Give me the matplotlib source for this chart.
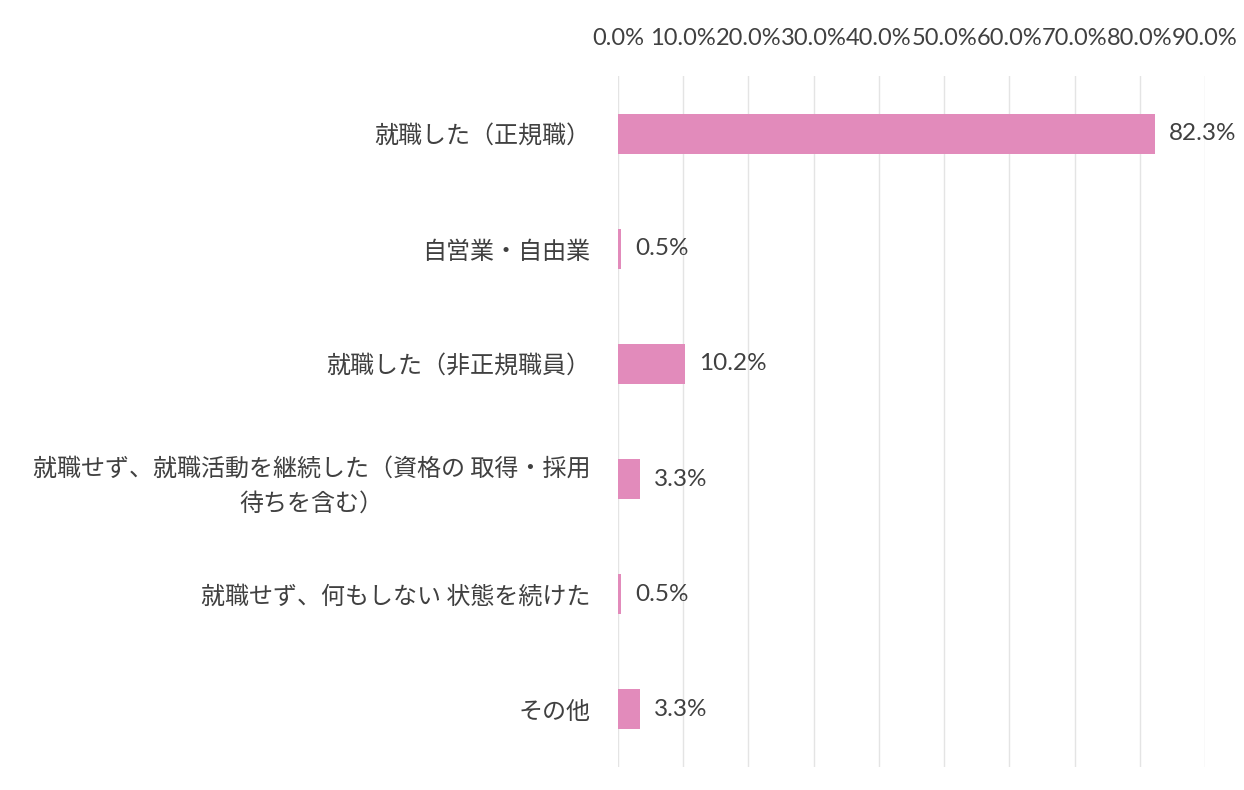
import numpy as np
import matplotlib.pyplot as plt

# data
categories = ['就職した（正規職）',
              '自営業・自由業',
              '就職した（非正規職員）',
              '就職せず、就職活動を継続した（資格の 取得・採用\n待ちを含む）',
              '就職せず、何もしない 状態を続けた',
              'その他']
values = [82.3, 0.5, 10.2, 3.3, 0.5, 3.3]
ticks = np.arange(0, 91, 10)

jp_font = ['Noto Sans CJK JP', 'DejaVu Sans']
num_font = ['Lato', 'DejaVu Sans']
txt_color = '#404040'
bar_color = '#E28BBB'

fig = plt.figure(figsize=(12.44, 7.9), dpi=100)
ax = fig.add_axes([0.4968, 0.0297, 0.4719, 0.8735])

y = np.arange(len(categories))
ax.barh(y, values, height=0.35, color=bar_color, zorder=3)

# value labels
for yi, v in zip(y, values):
    ax.text(v + 2.2, yi, '%.1f%%' % v, va='center', ha='left',
            fontsize=17.5, color=txt_color, family=num_font)

ax.set_ylim(len(categories) - 0.5, -0.5)
ax.set_yticks(y)
ax.set_yticklabels(categories, family=jp_font, fontsize=17.3, color=txt_color,
                   multialignment='center', linespacing=1.45)

ax.set_xlim(0, 90)
ax.set_xticks(ticks)
ax.set_xticklabels(['%.1f%%' % t for t in ticks], family=num_font,
                   fontsize=17, color=txt_color)
ax.xaxis.tick_top()
ax.tick_params(axis='both', length=0)
ax.tick_params(axis='x', pad=20)
ax.tick_params(axis='y', pad=20)

ax.grid(axis='x', color='#e4e4e4', linewidth=1, zorder=0)
for s in ax.spines.values():
    s.set_visible(False)

plt.savefig('out.png', dpi=100, facecolor='white')
